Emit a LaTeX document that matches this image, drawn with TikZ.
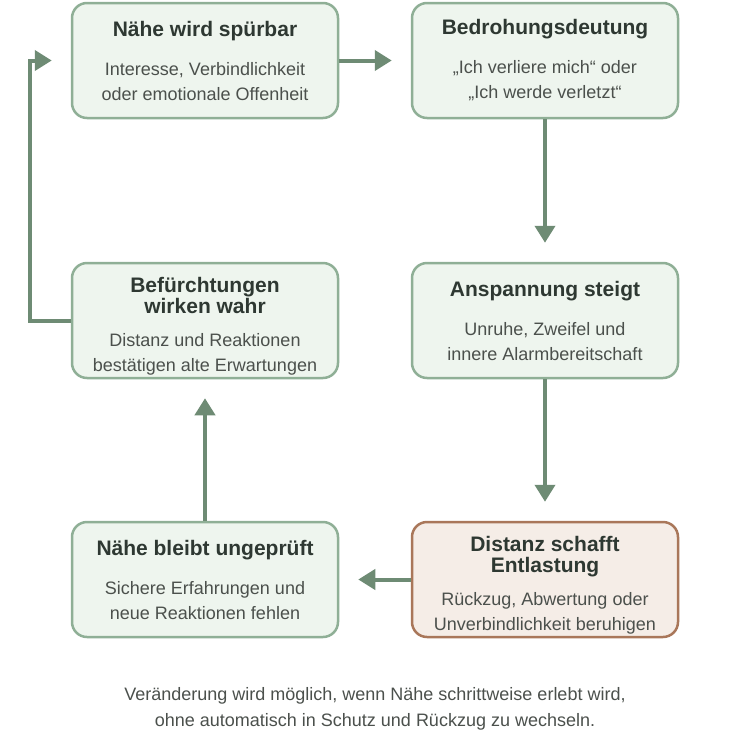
\documentclass[tikz,border=0pt]{standalone}
\usepackage{fontspec}
\setmainfont{Liberation Sans}
\usetikzlibrary{arrows.meta}

\definecolor{stagefill}{HTML}{EEF5EE}
\definecolor{stageline}{HTML}{8FAF96}
\definecolor{relieffill}{HTML}{F5EDE7}
\definecolor{reliefline}{HTML}{A9775A}
\definecolor{flowline}{HTML}{6E8B74}
\definecolor{titletext}{HTML}{2E3832}
\definecolor{bodytext}{HTML}{4B504C}

\newcommand{\stagetitle}[1]{{\fontsize{21}{22}\selectfont\bfseries\color{titletext}#1}}

\tikzset{>={Triangle[width=20pt,length=17pt]}}
\tikzset{
  stage/.style={draw=stageline, fill=stagefill, line width=2.5pt,
    rounded corners=15pt, minimum width=266pt, minimum height=115pt,
    align=center, text=bodytext, font=\fontsize{18}{25}\selectfont,
    inner sep=0pt},
  relief/.style={stage, draw=reliefline, fill=relieffill},
  flow/.style={->, draw=flowline, line width=4pt, shorten >=19pt}
}

\begin{document}
\begin{tikzpicture}[x=1pt,y=-1pt]
  \useasboundingbox (0,0) rectangle (750,750);

  \node[stage]  (s1) at (205,60.5)  {\stagetitle{Nähe wird spürbar}\\[14pt]
    Interesse, Verbindlichkeit\\oder emotionale Offenheit};
  \node[stage]  (s2) at (545,60.5)  {\stagetitle{Bedrohungsdeutung}\\[14pt]
    „Ich verliere mich“ oder\\„Ich werde verletzt“};
  \node[stage]  (s3) at (205,320.5) {\stagetitle{\rule{0pt}{26pt}Befürchtungen}\\[-4pt]
    \stagetitle{wirken wahr}\\[8pt]
    Distanz und Reaktionen\\bestätigen alte Erwartungen};
  \node[stage]  (s4) at (545,320.5) {\stagetitle{Anspannung steigt}\\[14pt]
    Unruhe, Zweifel und\\innere Alarmbereitschaft};
  \node[stage]  (s5) at (205,579.5) {\stagetitle{Nähe bleibt ungeprüft}\\[14pt]
    Sichere Erfahrungen und\\neue Reaktionen fehlen};
  \node[relief] (s6) at (545,579.5) {\stagetitle{\rule{0pt}{26pt}Distanz schafft}\\[-4pt]
    \stagetitle{Entlastung}\\[8pt]
    Rückzug, Abwertung oder\\Unverbindlichkeit beruhigen};

  % Kreislauf
  \draw[flow] (s1.east) -- (s2.west);
  \draw[flow] (s2.south) -- (s4.north);
  \draw[flow] (s4.south) -- (s6.north);
  \draw[flow] (s6.west) -- (s5.east);
  \draw[flow] (s5.north) -- (s3.south);
  \coordinate (loop) at (30,320.5);
  \draw[flow] (s3.west) -- (loop) |- (s1.west);

  \node[align=center, text=bodytext, font=\fontsize{18}{26}\selectfont] (note) at (375,709)
    {Veränderung wird möglich, wenn Nähe schrittweise erlebt wird,\\
     ohne automatisch in Schutz und Rückzug zu wechseln.};
\end{tikzpicture}
\end{document}
